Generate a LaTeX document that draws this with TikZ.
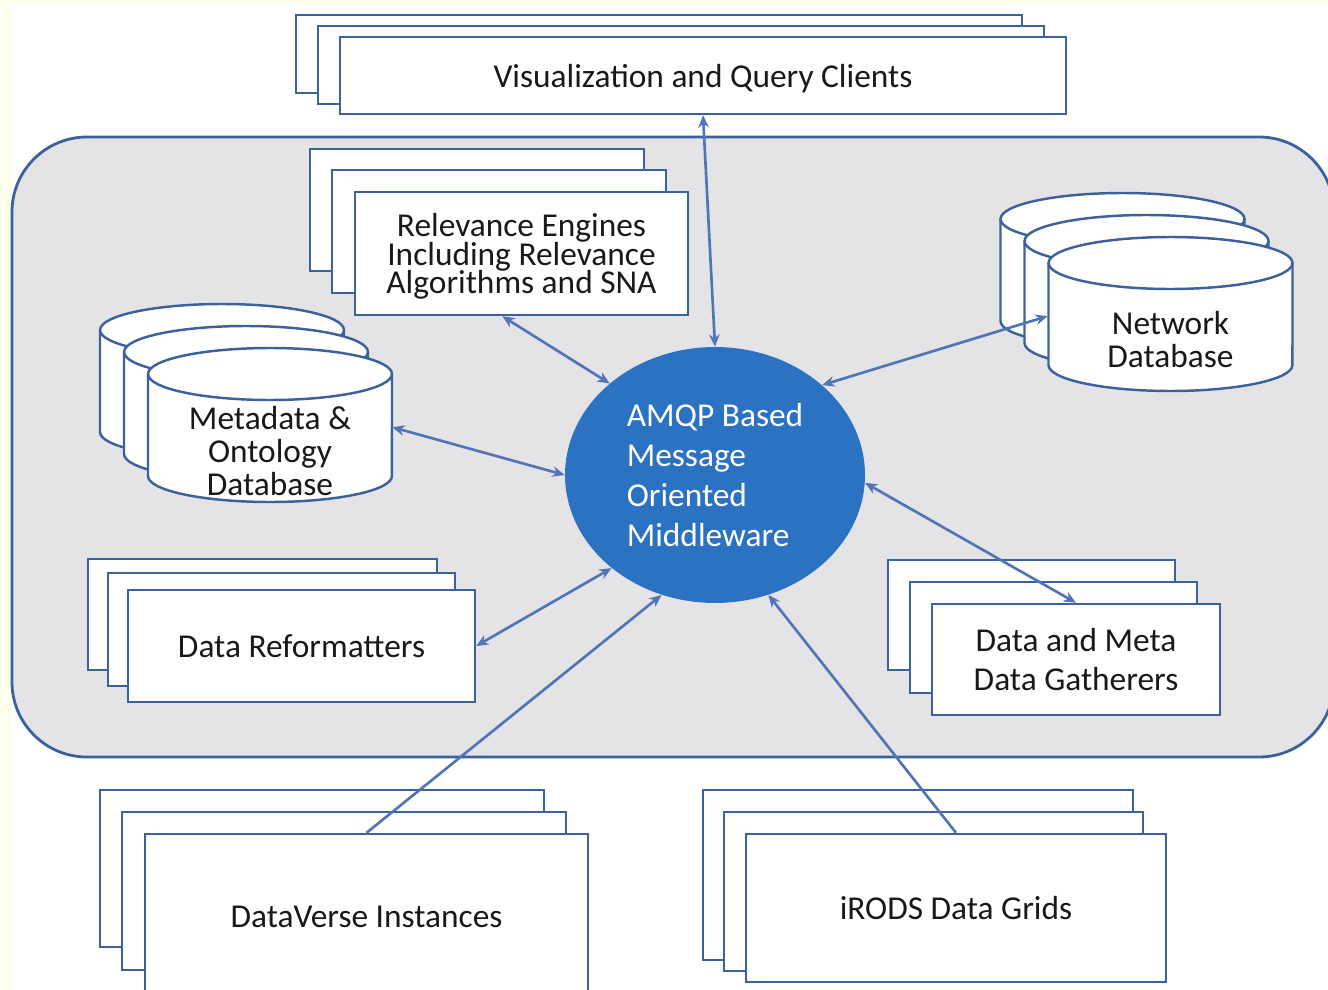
\documentclass[tikz,border=0pt]{standalone}
\usepackage{fontspec}
\setmainfont{Carlito}
\usetikzlibrary{shapes.geometric,arrows.meta}

\definecolor{framec}{RGB}{60,98,156}
\definecolor{linkc}{RGB}{80,116,182}
\definecolor{panelc}{RGB}{228,228,230}
\definecolor{momc}{RGB}{44,114,194}
\definecolor{creamc}{RGB}{255,255,238}
\definecolor{txtc}{RGB}{25,25,25}

\newcommand\tightfont{\fontsize{19}{16}\selectfont\lineskiplimit=-20pt\relax}

\tikzset{
  layer/.style={draw=framec, line width=1.4pt, fill=white},
  box/.style={layer, inner sep=0pt, text=txtc, align=center, text depth=0pt, font=\tightfont},
  dbtext/.style={inner sep=0pt, text=txtc, align=center, font=\fontsize{19}{19}\selectfont},
  link/.style={draw=linkc, line width=1.5pt, {Stealth[length=7pt,width=6pt]}-{Stealth[length=7pt,width=6pt]}},
  feed/.style={draw=linkc, line width=1.5pt, -{Stealth[length=7pt,width=6pt]}},
  pics/dbcyl/.style={code={
    \draw[layer] (-122,-51) -- (-122,51) arc[start angle=180,end angle=360,x radius=2.44cm,y radius=0.52cm]
      -- (122,-51) arc[start angle=0,end angle=180,x radius=2.44cm,y radius=0.52cm] -- cycle;
    \draw[layer, fill=none] (-122,-51) arc[start angle=180,end angle=360,x radius=2.44cm,y radius=0.52cm];
  }},
}

\begin{document}
\begin{tikzpicture}[x=0.02cm,y=-0.02cm]
\useasboundingbox (0,0) rectangle (1328,990);
\fill[creamc] (0,0) rectangle (1328,990);
\fill[white] (11,4) rectangle (1328,990);
\draw[framec, line width=1.6pt, fill=panelc, rounded corners=1.5cm] (12,137) rectangle (1334,757);

\draw[layer] (296,15) rectangle (1022,93);
\draw[layer] (318,26) rectangle (1044,104);
\node[box, minimum width=14.52cm, minimum height=1.54cm] (vis) at (703,75.5) {Visualization and Query Clients};

\draw[layer] (310,149) rectangle (644,271);
\draw[layer] (332,170) rectangle (666,293);
\node[box, minimum width=6.66cm, minimum height=2.46cm] (rel) at (521.5,253.5) {Relevance Engines\\Including Relevance\\Algorithms and SNA};

\pic at (1122.5,270) {dbcyl};
\pic at (1146.5,292) {dbcyl};
\pic at (1170.5,314) {dbcyl};
\node[dbtext, minimum width=4.9cm, minimum height=2.06cm, font=\fontsize{19}{18.8}\selectfont] (net) at (1170.5,340) {Network\\Database};

\pic at (222,381) {dbcyl};
\pic at (246,403) {dbcyl};
\pic at (270,425) {dbcyl};
\node[dbtext, minimum width=4.88cm, minimum height=1.96cm] (meta) at (270,451) {Metadata \&\\Ontology\\Database};

\draw[layer] (88,559) rectangle (437,670);
\draw[layer] (108,573) rectangle (455,686);
\node[box, minimum width=6.94cm, minimum height=2.24cm] (refm) at (301.5,646) {Data Reformatters};

\draw[layer] (888,560) rectangle (1175,670);
\draw[layer] (910,582) rectangle (1197,693);
\node[box, minimum width=5.76cm, minimum height=2.22cm, font=\fontsize{19}{22}\selectfont] (gath) at (1076,659.5) {Data and Meta\\Data Gatherers};

\draw[layer] (100,790) rectangle (544,947);
\draw[layer] (122,812) rectangle (566,970);
\node[box, minimum width=8.86cm, minimum height=3.32cm] (dv) at (366.5,917) {DataVerse Instances};

\draw[layer] (703,790) rectangle (1133,960);
\draw[layer] (724,812) rectangle (1143,971);
\node[box, minimum width=8.4cm, minimum height=2.96cm] (irods) at (956,908) {iRODS Data Grids};

\node[ellipse, fill=momc, minimum width=6cm, minimum height=5.12cm, inner sep=0pt, text=white, align=left, font=\fontsize{19}{22.8}\selectfont] (mom) at (715,475) {AMQP Based\\Message\\Oriented\\Middleware};

\draw[link] (vis.south) -- (mom.north);
\draw[link] (rel.-107) -- (mom.139);
\draw[link] (net.169) -- (mom.40);
\draw[link] (meta.11) -- (mom.west);
\draw[link] (refm.east) -- (mom.-138);
\draw[link] (gath.north) -- (mom.-3);
\draw[feed] (dv.north) -- (mom.-114);
\draw[feed] (irods.north) -- (mom.-66);
\end{tikzpicture}
\end{document}
